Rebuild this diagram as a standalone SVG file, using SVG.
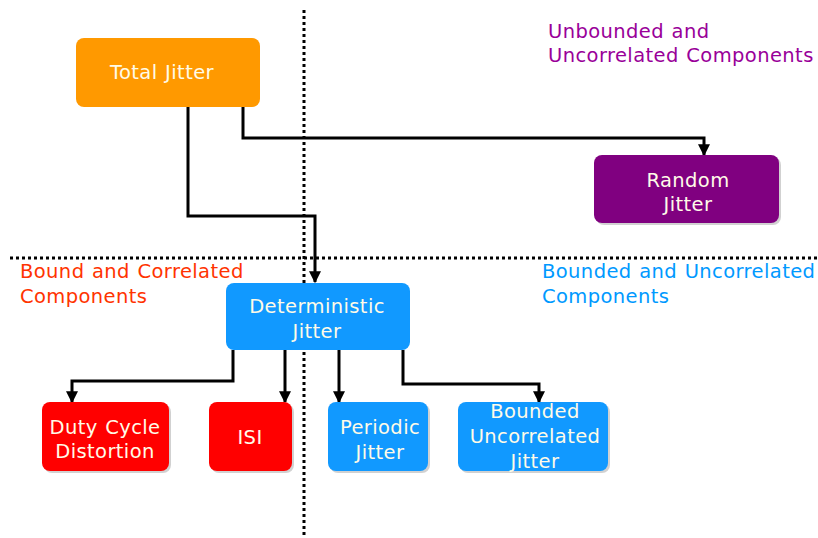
<svg xmlns="http://www.w3.org/2000/svg" width="818" height="538" viewBox="0 0 818 538">
  <style>
    text { font-family: "DejaVu Sans", Verdana, sans-serif; font-size: 19.5px; letter-spacing: 0.4px; word-spacing: 1px; }
    .box-text { fill: #fffbe8; text-anchor: middle; }
    .wire { fill: none; stroke: #000; stroke-width: 3; stroke-linejoin: miter; }
    .divider { fill: none; stroke: #000; stroke-width: 3; stroke-dasharray: 3 3; }
    .shadow { fill: #000; opacity: 0.18; }
  </style>
  <defs>
    <marker id="arrow" viewBox="0 0 10 10" refX="9" refY="5" markerWidth="4" markerHeight="4" orient="auto" markerUnits="strokeWidth">
      <path d="M0,0 L10,5 L0,10 Z" fill="#000"/>
    </marker>
  </defs>

  <rect width="818" height="538" fill="#fff"/>

  <!-- region dividers -->
  <g id="dividers">
    <line class="divider" x1="304" y1="10" x2="304" y2="538"/>
    <line class="divider" x1="10" y1="258" x2="818" y2="258"/>
  </g>

  <!-- region captions -->
  <g id="captions">
    <text x="548" y="38" fill="#990099">Unbounded and</text>
    <text x="548" y="62" fill="#990099">Uncorrelated Components</text>
    <text x="20" y="278" fill="#ff3300">Bound and Correlated</text>
    <text x="20" y="303" fill="#ff3300">Components</text>
    <text x="542" y="278" fill="#0099ff">Bounded and Uncorrelated</text>
    <text x="542" y="303" fill="#0099ff">Components</text>
  </g>

  <!-- connectors -->
  <g id="connectors">
    <polyline class="wire" points="243,107 243,138 704,138 704,155" marker-end="url(#arrow)"/>
    <polyline class="wire" points="188,107 188,216 315,216 315,282" marker-end="url(#arrow)"/>
    <polyline class="wire" points="233,350 233,381 72,381 72,402" marker-end="url(#arrow)"/>
    <polyline class="wire" points="285,350 285,402" marker-end="url(#arrow)"/>
    <polyline class="wire" points="339,350 339,402" marker-end="url(#arrow)"/>
    <polyline class="wire" points="403,350 403,384 539,384 539,402" marker-end="url(#arrow)"/>
  </g>

  <g id="total-jitter">
    <rect x="76" y="38" width="184" height="69" rx="8" fill="#ff9900"/>
    <text class="box-text" x="162" y="79" word-spacing="3">Total Jitter</text>
  </g>

  <g id="random-jitter">
    <rect class="shadow" x="596" y="157" width="185" height="68" rx="8"/>
    <rect x="594" y="155" width="185" height="68" rx="8" fill="#800080"/>
    <text class="box-text" x="688" y="187">Random</text>
    <text class="box-text" x="688" y="211">Jitter</text>
  </g>

  <g id="deterministic-jitter">
    <rect x="226" y="283" width="184" height="67" rx="8" fill="#1199ff"/>
    <text class="box-text" x="317" y="313">Deterministic</text>
    <text class="box-text" x="317" y="338">Jitter</text>
  </g>

  <g id="duty-cycle-distortion">
    <rect class="shadow" x="44" y="404" width="127" height="69" rx="8"/>
    <rect x="42" y="402" width="127" height="69" rx="8" fill="#ff0000"/>
    <text class="box-text" x="105" y="434">Duty Cycle</text>
    <text class="box-text" x="105" y="458">Distortion</text>
  </g>

  <g id="isi">
    <rect class="shadow" x="211" y="404" width="83" height="69" rx="8"/>
    <rect x="209" y="402" width="83" height="69" rx="8" fill="#ff0000"/>
    <text class="box-text" x="250" y="444">ISI</text>
  </g>

  <g id="periodic-jitter">
    <rect class="shadow" x="330" y="404" width="100" height="69" rx="8"/>
    <rect x="328" y="402" width="100" height="69" rx="8" fill="#1199ff"/>
    <text class="box-text" x="380" y="434">Periodic</text>
    <text class="box-text" x="380" y="459">Jitter</text>
  </g>

  <g id="bounded-uncorrelated-jitter">
    <rect class="shadow" x="460" y="404" width="150" height="69" rx="8"/>
    <rect x="458" y="402" width="150" height="69" rx="8" fill="#1199ff"/>
    <text class="box-text" x="535" y="418">Bounded</text>
    <text class="box-text" x="535" y="443">Uncorrelated</text>
    <text class="box-text" x="535" y="468">Jitter</text>
  </g>
</svg>
